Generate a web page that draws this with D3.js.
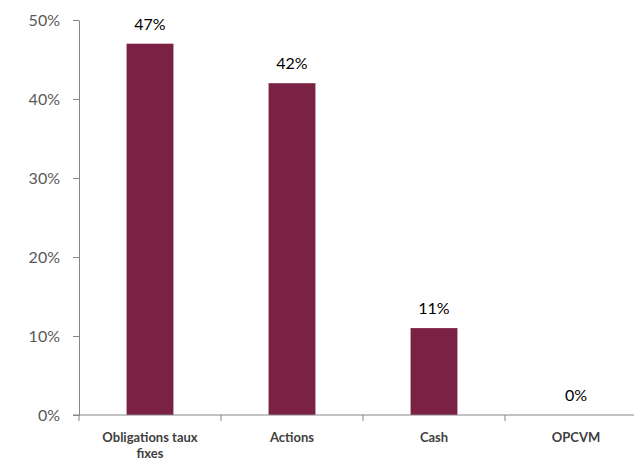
<!DOCTYPE html>
<html>
<head>
<meta charset="utf-8">
<script src="https://cdn.jsdelivr.net/npm/d3@7"></script>
<style>
  body { margin: 0; background: #fff; }
  svg { display: block; }
</style>
</head>
<body>
<svg id="barChart" width="634" height="460"></svg>
<script>
let categories = ["Obligations taux fixes", "Actions", "Cash", "OPCVM"];
let values = [47, 42, 11, 0];
let yTicks = [0, 10, 20, 30, 40, 50];

let chart = d3.select("#barChart");
let offsetx = 79;
let offsety = 20;
let height = 395;
let bandWidth = 142;
let font = "Lato, 'Liberation Sans', sans-serif";

let x = d3.scaleBand().domain(categories).range([0, bandWidth * categories.length]).paddingInner(0.67).paddingOuter(0.335);
let y = d3.scaleLinear().domain([0, 50]).range([height, 0]);

let plotArea = chart.append("g").attr("transform", "translate(" + offsetx + ", " + offsety + ")");

// y axis
let yAxis = plotArea.append("g")
    .call(d3.axisLeft(y).tickValues(yTicks).tickSize(6).tickSizeOuter(0).tickFormat(d => d + "%"));
yAxis.select(".domain").attr("stroke", "#868686");
yAxis.selectAll(".tick line").attr("stroke", "#868686");
yAxis.selectAll(".tick text")
    .attr("x", -19)
    .attr("fill", "#595959")
    .style("font-family", font)
    .style("font-size", "16px");

// bars
plotArea.append("g").selectAll("rect").data(values).enter().append("rect")
    .attr("x", (d, i) => x(categories[i]))
    .attr("y", d => y(d))
    .attr("width", x.bandwidth())
    .attr("height", d => height - y(d))
    .attr("fill", "#7B2143");

// value labels
plotArea.append("g").selectAll("text").data(values).enter().append("text")
    .attr("x", (d, i) => x(categories[i]) + x.bandwidth() / 2)
    .attr("y", d => y(d) - 14)
    .attr("text-anchor", "middle")
    .attr("fill", "#000")
    .style("font-family", font)
    .style("font-size", "16px")
    .text(d => d + "%");

// x axis
let xAxisG = plotArea.append("g").attr("transform", "translate(0, " + height + ")");
xAxisG.append("line")
    .attr("x1", -6).attr("x2", bandWidth * categories.length)
    .attr("stroke", "#868686");
xAxisG.selectAll("line.tick").data(categories).enter().append("line")
    .attr("class", "tick")
    .attr("x1", (d, i) => i * bandWidth).attr("x2", (d, i) => i * bandWidth)
    .attr("y1", 0).attr("y2", 6)
    .attr("stroke", "#868686");

let wrap = function(label, maxWidth) {
    let words = label.split(" ");
    let lines = [];
    let line = "";
    words.forEach(w => {
        let test = line ? line + " " + w : w;
        if (test.length * 7 > maxWidth && line) {
            lines.push(line);
            line = w;
        } else {
            line = test;
        }
    });
    lines.push(line);
    return lines;
};

categories.forEach((c, i) => {
    let t = xAxisG.append("text")
        .attr("x", x(c) + x.bandwidth() / 2)
        .attr("y", 27)
        .attr("text-anchor", "middle")
        .attr("fill", "#404040")
        .style("font-family", font)
        .style("font-size", "13px")
        .style("font-weight", "bold");
    wrap(c, 120).forEach((l, j) => {
        t.append("tspan").attr("x", x(c) + x.bandwidth() / 2).attr("dy", j == 0 ? 0 : 16).text(l);
    });
});
</script>
</body>
</html>
